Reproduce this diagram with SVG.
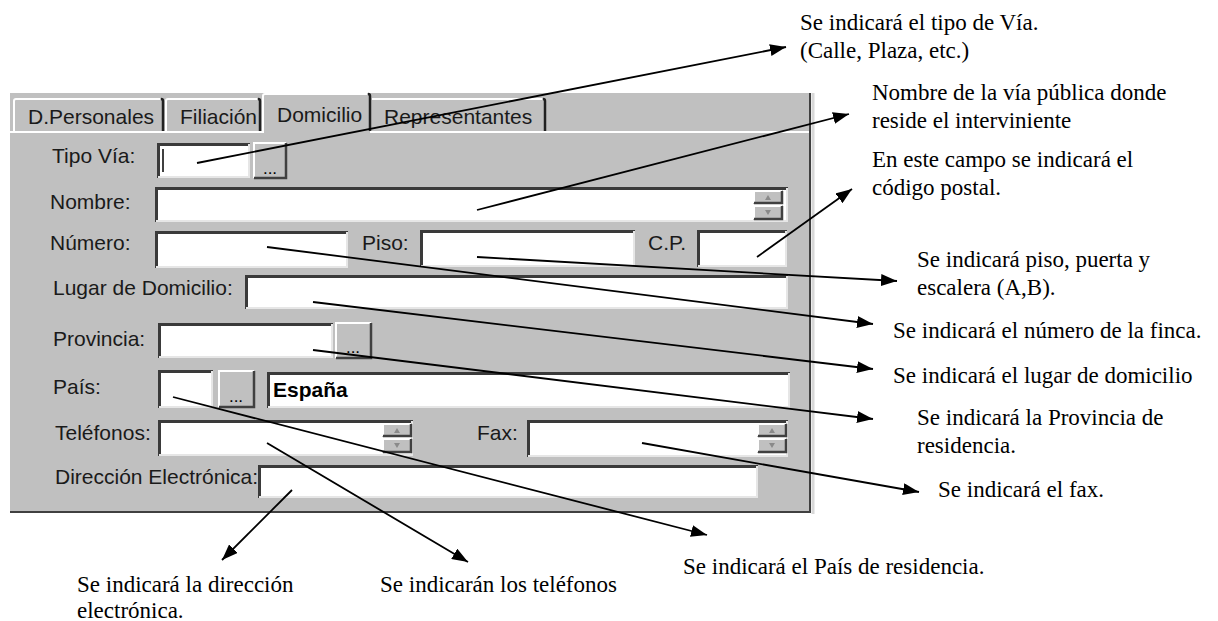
<svg xmlns="http://www.w3.org/2000/svg" width="1218" height="621" viewBox="0 0 1218 621">
<style>
.lbl{font-family:"Liberation Sans",Arial,sans-serif;font-size:21px;fill:#1a1a1a}
.bold{font-weight:bold;fill:#000}
.note{font-family:"Liberation Serif","Times New Roman",serif;font-size:23px;fill:#000}
.face{fill:#fff}
.sh{fill:none;stroke:#3a3a3a;stroke-width:3}
.hl{fill:none;stroke:#e6e6e6;stroke-width:2}
.btn{fill:#c0c0c0}
.bhl{fill:none;stroke:#fff;stroke-width:2}
.bsh{fill:none;stroke:#404040;stroke-width:2.5}
.dots{font-family:"Liberation Sans",Arial,sans-serif;font-size:17px;fill:#000;text-anchor:middle}
.tri{fill:#8a8a8a}
.con{stroke:#000;stroke-width:1.8;fill:none;marker-end:url(#ah)}
.tab{fill:#c0c0c0}
.tabhl{fill:none;stroke:#fff;stroke-width:2}
.tabsh{fill:none;stroke:#202020;stroke-width:2.5}
</style>
<defs>
<marker id="ah" markerUnits="userSpaceOnUse" markerWidth="18" markerHeight="12" refX="16" refY="6" orient="auto">
<path d="M0,0 L16,6 L0,12 z" fill="#000"/>
</marker>
</defs>
<rect width="1218" height="621" fill="#fff"/>

<g id="panel">
<rect x="10" y="93" width="801" height="419" fill="#c0c0c0"/>
<path d="M10,132 H263 M369,132 H809" stroke="#fff" stroke-width="2" fill="none"/>
<path d="M810,93 V512 H10" stroke="#404040" stroke-width="2" fill="none"/>
<path d="M813,93 V514" stroke="#d8d8d8" stroke-width="3" fill="none"/>
</g>

<g id="tabs">
<g id="tab-personales">
<path class="tab" d="M13,131 V101 Q13,98 16,98 H160 Q163,98 163,101 V131 z"/>
<path class="tabhl" d="M14,131 V101 Q14,99 16,99 H160"/>
<path class="tabsh" d="M161,99 Q163,99 163,101 V131"/>
<text class="lbl" x="28" y="124">D.Personales</text>
</g>
<g id="tab-filiacion">
<path class="tab" d="M165,131 V101 Q165,98 168,98 H257 Q260,98 260,101 V131 z"/>
<path class="tabhl" d="M166,131 V101 Q166,99 168,99 H257"/>
<path class="tabsh" d="M258,99 Q260,99 260,101 V131"/>
<text class="lbl" x="180" y="124">Filiación</text>
</g>
<g id="tab-representantes">
<path class="tab" d="M371,131 V101 Q371,98 374,98 H542 Q545,98 545,101 V131 z"/>
<path class="tabhl" d="M372,99 H542"/>
<path class="tabsh" d="M543,99 Q545,99 545,101 V131"/>
<text class="lbl" x="384" y="124">Representantes</text>
</g>
<g id="tab-domicilio">
<path class="tab" d="M262,134 V96 Q262,93 265,93 H367 Q370,93 370,96 V134 z"/>
<path class="tabhl" d="M263,133 V96 Q263,94 265,94 H367"/>
<path class="tabsh" d="M368,94 Q370,94 370,96 V131"/>
<text class="lbl" x="277" y="122">Domicilio</text>
</g>
</g>

<g id="row-tipovia">
<text class="lbl" x="52" y="163">Tipo Vía:</text>
<rect class="face" x="157" y="143" width="93" height="35"/>
<path class="sh" d="M158.5,178 V144.5 H250"/>
<path class="hl" d="M158,177 H249 V144"/>
<line x1="163" y1="149" x2="163" y2="172" stroke="#000" stroke-width="1.5"/>
<rect class="btn" x="253" y="142" width="34" height="37"/>
<path class="bhl" d="M254,178 V143 H286"/>
<path class="bsh" d="M254,178 H286 V143"/>
<text class="dots" x="270" y="174">...</text>
</g>

<g id="row-nombre">
<text class="lbl" x="50" y="209">Nombre:</text>
<rect class="face" x="155" y="187" width="633" height="35"/>
<path class="sh" d="M156.5,222 V188.5 H788"/>
<path class="hl" d="M156,221 H787 V188"/>
<rect class="btn" x="753" y="190" width="30" height="14"/>
<path class="bhl" d="M754,203 V191 H782"/>
<path class="bsh" d="M754,203 H782 V191"/>
<path class="tri" d="M765,200 L768,195 L771,200 z"/>
<rect class="btn" x="753" y="205" width="30" height="15"/>
<path class="bhl" d="M754,219 V206 H782"/>
<path class="bsh" d="M754,219 H782 V206"/>
<path class="tri" d="M765,210 L771,210 L768,215 z"/>
</g>

<g id="row-numero">
<text class="lbl" x="50" y="250">Número:</text>
<rect class="face" x="155" y="231" width="193" height="37"/>
<path class="sh" d="M156.5,268 V232.5 H348"/>
<path class="hl" d="M156,267 H347 V232"/>
<text class="lbl" x="362" y="250">Piso:</text>
<rect class="face" x="420" y="230" width="215" height="37"/>
<path class="sh" d="M421.5,267 V231.5 H635"/>
<path class="hl" d="M421,266 H634 V231"/>
<text class="lbl" x="648" y="250">C.P.</text>
<rect class="face" x="697" y="230" width="90" height="37"/>
<path class="sh" d="M698.5,267 V231.5 H787"/>
<path class="hl" d="M698,266 H786 V231"/>
</g>

<g id="row-lugar">
<text class="lbl" x="53" y="295">Lugar de Domicilio:</text>
<rect class="face" x="245" y="275" width="543" height="34"/>
<path class="sh" d="M246.5,309 V276.5 H788"/>
<path class="hl" d="M246,308 H787 V276"/>
</g>

<g id="row-provincia">
<text class="lbl" x="53" y="346">Provincia:</text>
<rect class="face" x="158" y="323" width="175" height="35"/>
<path class="sh" d="M159.5,358 V324.5 H333"/>
<path class="hl" d="M159,357 H332 V324"/>
<rect class="btn" x="335" y="322" width="37" height="37"/>
<path class="bhl" d="M336,358 V323 H371"/>
<path class="bsh" d="M336,358 H371 V323"/>
<text class="dots" x="353" y="353">...</text>
</g>

<g id="row-pais">
<text class="lbl" x="53" y="394">País:</text>
<rect class="face" x="158" y="370" width="55" height="38"/>
<path class="sh" d="M159.5,408 V371.5 H213"/>
<path class="hl" d="M159,407 H212 V371"/>
<rect class="btn" x="218" y="370" width="37" height="38"/>
<path class="bhl" d="M219,407 V371 H254"/>
<path class="bsh" d="M219,407 H254 V371"/>
<text class="dots" x="236" y="402">...</text>
<rect class="face" x="267" y="372" width="523" height="36"/>
<path class="sh" d="M268.5,408 V373.5 H790"/>
<path class="hl" d="M268,407 H789 V373"/>
<text class="lbl bold" x="273" y="397">España</text>
</g>

<g id="row-telefonos">
<text class="lbl" x="55" y="440">Teléfonos:</text>
<rect class="face" x="158" y="420" width="255" height="36"/>
<path class="sh" d="M159.5,456 V421.5 H413"/>
<path class="hl" d="M159,455 H412 V421"/>
<rect class="btn" x="382" y="423" width="30" height="14"/>
<path class="bhl" d="M383,436 V424 H411"/>
<path class="bsh" d="M383,436 H411 V424"/>
<path class="tri" d="M394,433 L397,428 L400,433 z"/>
<rect class="btn" x="382" y="438" width="30" height="15"/>
<path class="bhl" d="M383,452 V439 H411"/>
<path class="bsh" d="M383,452 H411 V439"/>
<path class="tri" d="M394,443 L400,443 L397,448 z"/>
<text class="lbl" x="477" y="440">Fax:</text>
<rect class="face" x="527" y="420" width="261" height="37"/>
<path class="sh" d="M528.5,457 V421.5 H788"/>
<path class="hl" d="M528,456 H787 V421"/>
<rect class="btn" x="757" y="423" width="30" height="14"/>
<path class="bhl" d="M758,436 V424 H786"/>
<path class="bsh" d="M758,436 H786 V424"/>
<path class="tri" d="M769,433 L772,428 L775,433 z"/>
<rect class="btn" x="757" y="438" width="30" height="15"/>
<path class="bhl" d="M758,452 V439 H786"/>
<path class="bsh" d="M758,452 H786 V439"/>
<path class="tri" d="M769,443 L775,443 L772,448 z"/>
</g>

<g id="row-direccion">
<text class="lbl" x="55" y="484">Dirección Electrónica:</text>
<rect class="face" x="258" y="465" width="500" height="33"/>
<path class="sh" d="M259.5,498 V466.5 H758"/>
<path class="hl" d="M259,497 H757 V466"/>
</g>

<g id="connectors">
<line class="con" x1="197" y1="163" x2="786" y2="47"/>
<line class="con" x1="477" y1="210" x2="849" y2="114"/>
<line class="con" x1="757" y1="257" x2="852" y2="189"/>
<line class="con" x1="477" y1="257" x2="897" y2="281"/>
<line class="con" x1="267" y1="247" x2="873" y2="324"/>
<line class="con" x1="313" y1="302" x2="873" y2="369"/>
<line class="con" x1="313" y1="350" x2="873" y2="419"/>
<line class="con" x1="173" y1="397" x2="707" y2="535"/>
<line class="con" x1="642" y1="443" x2="919" y2="492"/>
<line class="con" x1="267" y1="443" x2="468" y2="562"/>
<line class="con" x1="292" y1="490" x2="222" y2="560"/>
</g>

<g id="note-tipovia"><text class="note" x="800" y="30">Se indicará el tipo de Vía.</text><text class="note" x="800" y="58">(Calle, Plaza, etc.)</text></g>
<g id="note-nombre"><text class="note" x="872" y="100">Nombre de la vía pública donde</text><text class="note" x="872" y="128">reside el interviniente</text></g>
<g id="note-cp"><text class="note" x="872" y="167">En este campo se indicará el</text><text class="note" x="872" y="195">código postal.</text></g>
<g id="note-piso"><text class="note" x="917" y="267">Se indicará piso, puerta y</text><text class="note" x="917" y="295">escalera (A,B).</text></g>
<g id="note-numero"><text class="note" x="893" y="338">Se indicará el número de la finca.</text></g>
<g id="note-lugar"><text class="note" x="893" y="383">Se indicará el lugar de domicilio</text></g>
<g id="note-provincia"><text class="note" x="917" y="425">Se indicará la Provincia de</text><text class="note" x="917" y="453">residencia.</text></g>
<g id="note-fax"><text class="note" x="938" y="497">Se indicará el fax.</text></g>
<g id="note-pais"><text class="note" x="683" y="574">Se indicará el País de residencia.</text></g>
<g id="note-telefonos"><text class="note" x="380" y="592">Se indicarán los teléfonos</text></g>
<g id="note-direccion"><text class="note" x="77" y="592">Se indicará la dirección</text><text class="note" x="77" y="618">electrónica.</text></g>
</svg>
